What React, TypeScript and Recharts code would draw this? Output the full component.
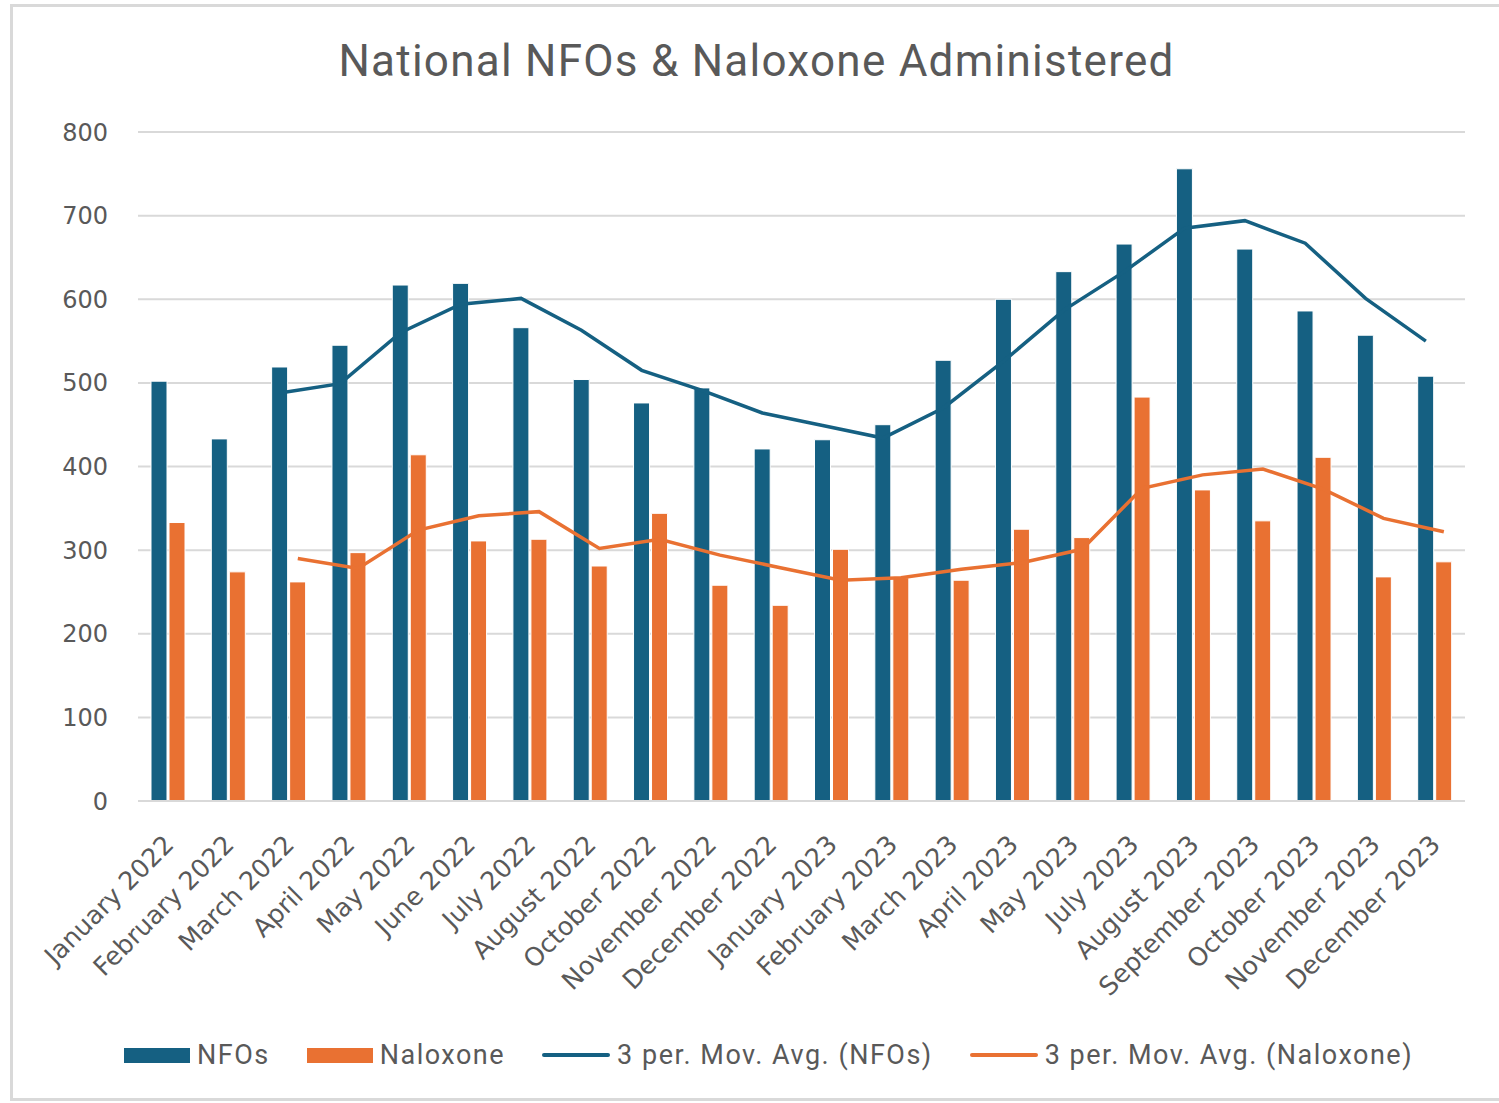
import React from 'react';
import { ComposedChart, Bar, Line, XAxis, YAxis, CartesianGrid, Legend } from 'recharts';

const categories = [
  'January 2022', 'February 2022', 'March 2022', 'April 2022', 'May 2022', 'June 2022',
  'July 2022', 'August 2022', 'October 2022', 'November 2022', 'December 2022',
  'January 2023', 'February 2023', 'March 2023', 'April 2023', 'May 2023', 'July 2023',
  'August 2023', 'September 2023', 'October 2023', 'November 2023', 'December 2023',
];
const nfos = [502, 433, 519, 545, 617, 619, 566, 504, 476, 494, 421, 432, 450, 527, 600, 633, 666, 756, 660, 586, 557, 508];
const naloxone = [333, 274, 262, 297, 414, 311, 313, 281, 344, 258, 234, 301, 267, 264, 325, 315, 483, 372, 335, 411, 268, 286];
const nfoMovAvg = [null, null, 488, 499, 560, 594, 601, 563, 515, 491, 464, 449, 434, 470, 526, 587, 633, 685, 694, 667, 601, 550];
const naloxoneMovAvg = [null, null, 290, 278, 324, 341, 346, 302, 313, 294, 279, 264, 267, 277, 285, 301, 374, 390, 397, 373, 338, 322];
const yTicks = [0, 100, 200, 300, 400, 500, 600, 700, 800];

const BLUE = '#156082';
const ORANGE = '#E97132';
const GREY_TEXT = '#595959';
const GRID = '#D9D9D9';

const data = categories.map((month, i) => ({
  month,
  nfos: nfos[i],
  naloxone: naloxone[i],
  nfoMA: nfoMovAvg[i],
  naloxoneMA: naloxoneMovAvg[i],
}));

const legendItems = [
  { label: 'NFOs', kind: 'bar', color: BLUE },
  { label: 'Naloxone', kind: 'bar', color: ORANGE },
  { label: '3 per. Mov. Avg. (NFOs)', kind: 'line', color: BLUE },
  { label: '3 per. Mov. Avg. (Naloxone)', kind: 'line', color: ORANGE },
];

const XTick = (props: any) => {
  const { x, y, payload } = props;
  return (
    <g transform={`translate(${x},${y})`}>
      <text
        x={0}
        y={0}
        transform="translate(7,45) rotate(-45)"
        textAnchor="end"
        fill={GREY_TEXT}
        fontSize={25.5}
        fontFamily="'DejaVu Sans', sans-serif"
      >
        {payload.value}
      </text>
    </g>
  );
};

const LegendContent = () => (
  <div
    style={{
      height: 60,
      display: 'flex',
      alignItems: 'center',
      paddingLeft: 124,
      fontFamily: 'Roboto, sans-serif',
      fontSize: 27,
      letterSpacing: 1.5,
      color: GREY_TEXT,
    }}
  >
    {legendItems.map((it) => (
      <div key={it.label} style={{ display: 'flex', alignItems: 'center', marginRight: 37 }}>
        {it.kind === 'bar' ? (
          <div style={{ width: 66, height: 15, background: it.color, marginRight: 7 }} />
        ) : (
          <div style={{ width: 68, height: 4, borderRadius: 2, background: it.color, marginRight: 7 }} />
        )}
        <span>{it.label}</span>
      </div>
    ))}
  </div>
);

export default function App() {
  return (
    <div style={{ position: 'absolute', left: 0, top: 0, width: 1499, height: 1103, background: '#fff' }}>
      <style>{`
        .ma-nfo { transform: translateX(-9px); }
        .ma-nal { transform: translateX(9px); }
      `}</style>
      <div
        style={{
          position: 'absolute',
          left: 10,
          top: 4,
          width: 1489,
          height: 1097,
          border: '3px solid #D9D9D9',
          borderRight: 'none',
          boxSizing: 'border-box',
        }}
      />
      <div
        style={{
          position: 'absolute',
          left: 0,
          top: 39,
          width: 1513,
          textAlign: 'center',
          fontFamily: 'Roboto, sans-serif',
          fontSize: 44,
          letterSpacing: 1.25,
          lineHeight: '44px',
          color: GREY_TEXT,
        }}
      >
        National NFOs &amp; Naloxone Administered
      </div>
      <div style={{ position: 'absolute', left: 0, top: 0 }}>
        <ComposedChart
          width={1499}
          height={1103}
          data={data}
          margin={{ top: 132, right: 34, bottom: 18, left: 0 }}
          barGap={2}
        >
          <CartesianGrid vertical={false} stroke={GRID} strokeWidth={2} />
          <XAxis
            dataKey="month"
            interval={0}
            height={224}
            tickLine={false}
            tickSize={0}
            tickMargin={0}
            axisLine={{ stroke: GRID, strokeWidth: 2 }}
            tick={<XTick />}
          />
          <YAxis
            width={138}
            domain={[0, 800]}
            ticks={yTicks}
            axisLine={false}
            tickLine={false}
            tickSize={0}
            tickMargin={30}
            tick={{ fill: GREY_TEXT, fontSize: 24, fontFamily: "'DejaVu Sans', sans-serif" }}
          />
          <Bar dataKey="nfos" name="NFOs" fill={BLUE} stroke="#fff" strokeWidth={1} barSize={16} isAnimationActive={false} />
          <Bar dataKey="naloxone" name="Naloxone" fill={ORANGE} stroke="#fff" strokeWidth={1} barSize={16} isAnimationActive={false} />
          <Line
            className="ma-nfo"
            dataKey="nfoMA"
            name="3 per. Mov. Avg. (NFOs)"
            stroke={BLUE}
            strokeWidth={3.5}
            dot={false}
            activeDot={false}
            connectNulls={false}
            isAnimationActive={false}
          />
          <Line
            className="ma-nal"
            dataKey="naloxoneMA"
            name="3 per. Mov. Avg. (Naloxone)"
            stroke={ORANGE}
            strokeWidth={3.5}
            dot={false}
            activeDot={false}
            connectNulls={false}
            isAnimationActive={false}
          />
          <Legend
            verticalAlign="bottom"
            content={<LegendContent />}
            wrapperStyle={{ left: 0, width: 1499 }}
          />
        </ComposedChart>
      </div>
    </div>
  );
}
